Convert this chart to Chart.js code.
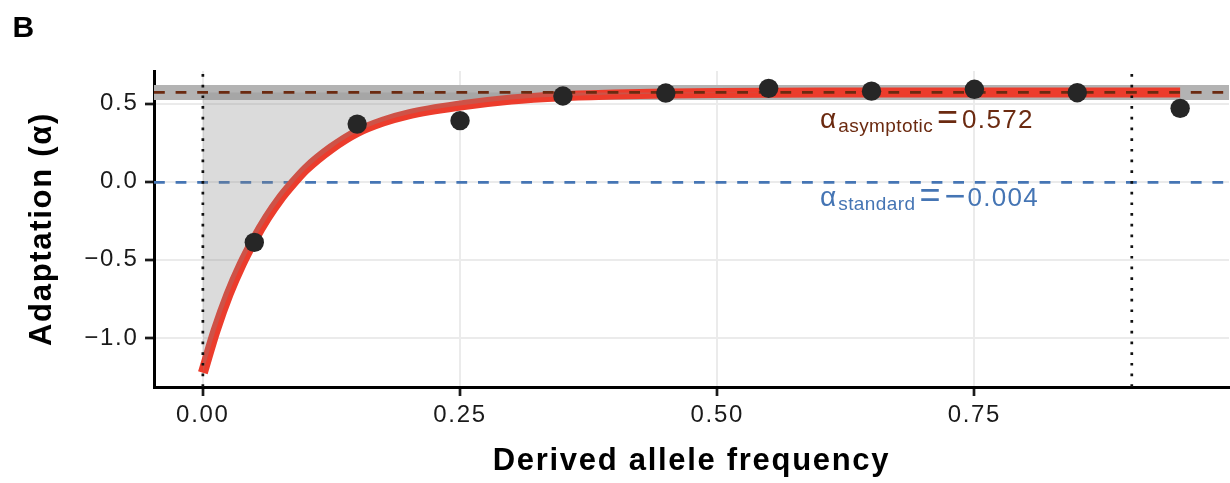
<!DOCTYPE html>
<html><head><meta charset="utf-8">
<script src="https://cdn.jsdelivr.net/npm/chart.js@4.4.1/dist/chart.umd.min.js"></script>
<style>html,body{margin:0;padding:0;background:#fff;}canvas{display:block;}</style>
</head><body>
<canvas id="c" width="1230" height="483"></canvas>
<script>
// ---- data ----
const binMidpoints = [0.05, 0.15, 0.25, 0.35, 0.45, 0.55, 0.65, 0.75, 0.85, 0.95];
const alphaByBin   = [-0.388, 0.369, 0.391, 0.549, 0.568, 0.598, 0.580, 0.592, 0.570, 0.470];
const fitX = [0, 0.0125, 0.025, 0.0375, 0.05, 0.0625, 0.075, 0.0875, 0.1, 0.125, 0.15, 0.175, 0.2, 0.25, 0.3, 0.35, 0.4, 0.45, 0.5, 0.6, 0.7, 0.8, 0.95];
const fitY = [-1.223, -0.95, -0.72, -0.53, -0.37, -0.23, -0.11, -0.01, 0.08, 0.215, 0.318, 0.385, 0.432, 0.488, 0.527, 0.548, 0.559, 0.565, 0.568, 0.571, 0.572, 0.572, 0.572];
const alphaAsymptotic = 0.572;
const asymCI = [0.523, 0.619];
const alphaStandard = -0.004;
const cutoffs = [0, 0.903];
const xTicks = [0, 0.25, 0.5, 0.75];
const xTickLabels = ['0.00', '0.25', '0.50', '0.75'];
const yTicks = [-1.0, -0.5, 0, 0.5];
const yTickLabels = ['\u22121.0', '\u22120.5', '0.0', '0.5'];
const xRange = [-0.0475, 0.9975];
const yRange = [-1.314, 0.709];
const annotX = 0.6;
const annotY = [0.342, -0.156];
const annotSub = ['asymptotic', 'standard'];
const annotVal = ['0.572', '\u22120.004'];

const FONT = '"Liberation Sans", Arial, sans-serif';
const xy = (xs, ys) => xs.map((x, i) => ({x: x, y: ys[i]}));
const hline = v => [{x: xRange[0], y: v}, {x: xRange[1], y: v}];
const vline = v => [{x: v, y: yRange[0]}, {x: v, y: yRange[1]}];

const spacing = {
  id: 'spacing',
  beforeLayout(c) { c.ctx.letterSpacing = '1.7px'; },
  beforeDraw(c) { c.ctx.letterSpacing = '1.7px'; }
};

function drawRich(ctx, x, y, parts, color) {
  ctx.fillStyle = color; ctx.textAlign = 'left'; ctx.textBaseline = 'alphabetic';
  let cx = x;
  for (const p of parts) {
    ctx.font = p.size + 'px ' + FONT;
    ctx.letterSpacing = (p.ls || 0) + 'px';
    cx += p.gap || 0;
    ctx.fillText(p.t, cx, y + (p.dy || 0));
    cx += ctx.measureText(p.t).width;
  }
}

const annot = {
  id: 'annot',
  afterDatasetsDraw(c) {
    const ctx = c.ctx, xs = c.scales.x, ys = c.scales.y;
    const colors = ['#6b2a10', '#4575b4'];
    ctx.save();
    for (let i = 0; i < 2; i++) {
      const x0 = xs.getPixelForValue(annotX), y0 = ys.getPixelForValue(annotY[i]);
      const val = annotVal[i];
      const parts = [
        {t: '\u03b1', size: 28},
        {t: annotSub[i], size: 19, ls: 0.4, dy: 4, gap: 2},
        {t: '=', size: 36, dy: 1, gap: 4}
      ];
      if (val.startsWith('\u2212')) {
        parts.push({t: '\u2212', size: 36, dy: 2, gap: 4});
        parts.push({t: val.slice(1), size: 26, ls: 1.3, gap: 2});
      } else {
        parts.push({t: val, size: 26, ls: 1.3, gap: 4});
      }
      drawRich(ctx, x0, y0, parts, colors[i]);
    }
    ctx.restore();
  },
  afterDraw(c) {
    const ctx = c.ctx;
    ctx.save();
    ctx.letterSpacing = '0px';
    ctx.font = 'bold 30px ' + FONT;
    ctx.fillStyle = '#000';
    ctx.textBaseline = 'alphabetic';
    ctx.textAlign = 'left';
    ctx.fillText('B', 12.5, 36.7);
    ctx.restore();
  }
};

new Chart(document.getElementById('c'), {
  type: 'line',
  data: {
    datasets: [
      {label: 'ci', data: hline(asymCI[1]), fill: {value: asymCI[0]}, backgroundColor: '#b3b3b3',
       borderColor: 'transparent', borderWidth: 0, pointRadius: 0, order: 10},
      {label: 'standard', data: hline(alphaStandard), borderColor: '#4575b4', borderWidth: 2.7,
       borderDash: [10.8, 10.8], pointRadius: 0, fill: false, order: 9},
      {label: 'fit', data: xy(fitX, fitY), borderColor: '#ec3c2c', borderWidth: 10, borderCapStyle: 'butt',
       cubicInterpolationMode: 'monotone', pointRadius: 0, fill: false, order: 8},
      {label: 'fitfill', data: xy(fitX, fitY), fill: {value: alphaAsymptotic}, backgroundColor: 'rgba(135,135,135,0.3)',
       borderColor: 'transparent', borderWidth: 0, cubicInterpolationMode: 'monotone', pointRadius: 0, order: 7},
      {label: 'asymptotic', data: hline(alphaAsymptotic), borderColor: '#6b2a10', borderWidth: 2.7,
       borderDash: [10.8, 10.8], pointRadius: 0, fill: false, order: 6},
      {label: 'cut0', data: vline(cutoffs[0]), borderColor: '#111', borderWidth: 2.7, borderDash: [2.7, 8],
       pointRadius: 0, fill: false, order: 5},
      {label: 'cut1', data: vline(cutoffs[1]), borderColor: '#111', borderWidth: 2.7, borderDash: [2.7, 8],
       pointRadius: 0, fill: false, order: 4},
      {label: 'bins', data: xy(binMidpoints, alphaByBin), showLine: false, pointRadius: 9.7, pointHoverRadius: 9.7,
       pointBackgroundColor: '#262626', pointBorderWidth: 0, pointBorderColor: '#262626', order: 1}
    ]
  },
  options: {
    responsive: false, animation: false, devicePixelRatio: 1,
    events: [],
    layout: {padding: {top: 71, left: 0, right: 1, bottom: 0}, autoPadding: false},
    plugins: {legend: {display: false}, tooltip: {enabled: false}},
    scales: {
      x: {
        type: 'linear', min: xRange[0], max: xRange[1],
        afterBuildTicks: s => { s.ticks = xTicks.map(v => ({value: v})); },
        afterFit: s => { s.height = 96; s.paddingLeft = 0; s.paddingRight = 0; },
        ticks: {callback: (v, i) => xTickLabels[i], font: {family: FONT, size: 24}, color: '#1a1a1a',
                padding: 5, maxRotation: 0, autoSkip: false},
        grid: {color: '#ebebeb', lineWidth: 2, tickColor: '#1a1a1a', tickLength: 9, tickWidth: 2.7},
        border: {display: true, color: '#000', width: 3},
        title: {display: true, text: 'Derived allele frequency', color: '#000',
                font: {family: FONT, size: 31, weight: 'bold'}, padding: {top: 0, bottom: 3.4}}
      },
      y: {
        type: 'linear', min: yRange[0], max: yRange[1],
        afterBuildTicks: s => { s.ticks = yTicks.map(v => ({value: v})); },
        afterFit: s => { s.width = 154; s.paddingTop = 0; s.paddingBottom = 0; },
        ticks: {callback: (v, i) => yTickLabels[i], font: {family: FONT, size: 24}, color: '#1a1a1a',
                padding: 6.5, autoSkip: false},
        grid: {color: '#ebebeb', lineWidth: 2, tickColor: '#1a1a1a', tickLength: 9, tickWidth: 2.7},
        border: {display: true, color: '#000', width: 3},
        title: {display: true, text: 'Adaptation (\u03b1)', color: '#000',
                font: {family: FONT, size: 31, weight: 'bold'}, padding: {top: 24, bottom: 0}}
      }
    }
  },
  plugins: [spacing, annot]
});
</script>
</body></html>
